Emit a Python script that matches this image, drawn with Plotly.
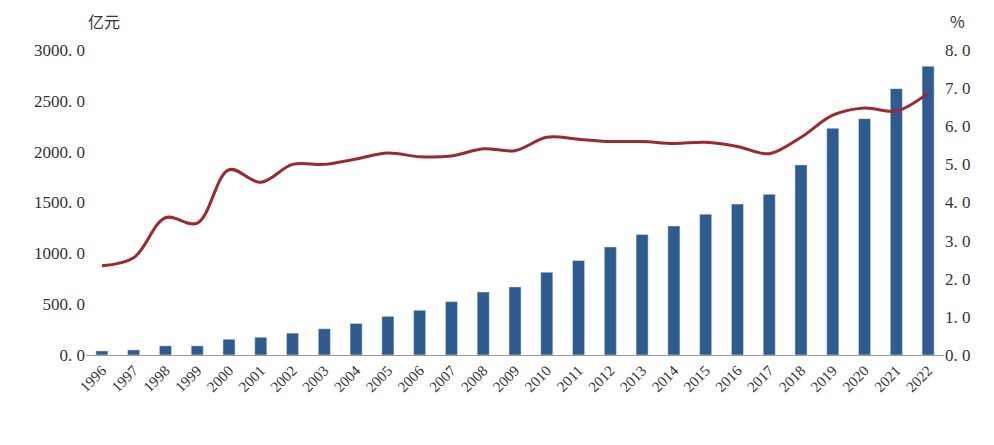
import plotly.graph_objects as go

years = [str(y) for y in range(1996, 2023)]
spend = [40, 50, 90, 90, 155, 175, 215, 258, 310, 380, 440, 525, 620, 670, 815, 930,
         1063, 1185, 1269, 1385, 1485, 1580, 1870, 2230, 2325, 2620, 2840]
ratio = [2.34, 2.55, 3.6, 3.46, 4.86, 4.53, 5.0, 5.0, 5.14, 5.3, 5.2, 5.22, 5.41, 5.36,
         5.71, 5.66, 5.6, 5.6, 5.55, 5.58, 5.47, 5.28, 5.71, 6.29, 6.48, 6.4, 6.87]
left_ticks = [0, 500, 1000, 1500, 2000, 2500, 3000]
right_ticks = [0, 1, 2, 3, 4, 5, 6, 7, 8]

font = "Noto Sans CJK SC"
serif = "Liberation Serif"
fig = go.Figure()
fig.add_trace(go.Bar(x=years, y=spend, name="全社会研究与试验发展经费",
                     marker_color="#2f5b8f", width=0.38))
fig.add_trace(go.Scatter(x=years, y=ratio, name="相当于GDP的比例", yaxis="y2",
                         mode="lines", line=dict(color="#9b2a2e", width=3, shape="spline")))
fig.update_layout(
    width=994, height=445, paper_bgcolor="white", plot_bgcolor="white",
    margin=dict(l=78, r=58, t=42, b=98, autoexpand=False),
    font=dict(family=font, size=15, color="#333"),
    xaxis=dict(tickangle=-45, showline=True, linecolor="#999", ticks="",
               tickfont=dict(family=serif, size=15)),
    yaxis=dict(range=[0, 3000], tickvals=left_ticks, tickfont=dict(family=serif, size=17),
               ticktext=[f"{v}. 0" for v in left_ticks], showgrid=False, zeroline=False,
               showline=False),
    yaxis2=dict(range=[0, 8], tickvals=right_ticks, overlaying="y", side="right",
                tickfont=dict(family=serif, size=17),
                ticktext=[f"{v}. 0" for v in right_ticks], showgrid=False, zeroline=False,
                showline=False),
    legend=dict(orientation="h", x=0.5, xanchor="center", y=-0.27, yanchor="top",
                font=dict(size=15), entrywidth=330),
    annotations=[
        dict(text="亿元", xref="paper", yref="paper", x=0.0, y=1.05, xanchor="left",
             yanchor="bottom", showarrow=False, font=dict(size=16)),
        dict(text="%", xref="paper", yref="paper", x=1.005, y=1.05, xanchor="left",
             yanchor="bottom", showarrow=False, font=dict(size=16)),
    ],
)
fig.write_html("out.html")
